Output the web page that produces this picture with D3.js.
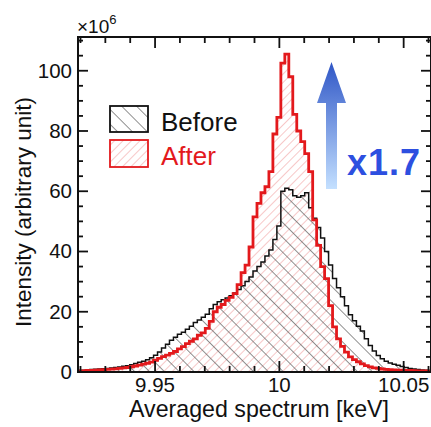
<!DOCTYPE html>
<html>
<head>
<meta charset="utf-8">
<script src="https://cdn.jsdelivr.net/npm/d3@7"></script>
<style>
  html, body { margin: 0; padding: 0; background: #fff; }
  svg { display: block; }
  text { font-family: "Liberation Sans", Arial, Helvetica, sans-serif; }
</style>
</head>
<body>
<svg id="chart" width="431" height="427"></svg>
<script>
// ---- Data ----
const binStart = 9.919;      // keV, left edge of first bin
const binWidth = 0.0016;     // keV
const before = [
  0.5, 0.6, 0.7, 0.8, 0.9, 1.0, 1.1, 1.2, 1.35, 1.5,
  1.7, 1.9, 2.1, 2.4, 2.8, 3.2, 3.6, 4.1, 4.7, 5.6,
  6.6, 8.0, 9.2, 10.5, 11.5, 12.5, 13.2, 14.2, 15.2, 16.4,
  17.3, 18.2, 19.2, 21.0, 22.4, 23.3, 24.0, 24.6, 25.3, 26.2,
  27.4, 28.6, 30.0, 31.5, 33.5, 35.0, 36.5, 38.5, 40.5, 44.0,
  48.5, 60.0, 61.0, 60.5, 58.5, 58.0, 58.5, 59.5, 54.5, 51.0,
  48.0, 44.5, 40.0, 35.5, 31.0, 28.0, 25.0, 22.0, 19.0, 17.0,
  15.2, 13.6, 11.0, 8.8, 7.0, 5.5, 4.4, 3.6, 3.0, 2.6,
  2.2, 1.8, 1.5, 1.2, 1.0, 0.8, 0.7, 0.6, 0.5
];
const after = [
  0.4, 0.4, 0.5, 0.5, 0.6, 0.7, 0.8, 0.85, 0.95, 1.05,
  1.2, 1.35, 1.5, 1.75, 2.0, 2.3, 2.6, 2.9, 3.3, 3.9,
  4.5, 5.1, 5.6, 6.2, 6.8, 7.7, 8.4, 9.4, 10.2, 11.0,
  12.2, 13.0, 14.5, 16.8, 20.0, 21.5, 22.4, 23.8, 24.8, 26.0,
  29.0, 33.0, 35.5, 41.5, 51.5, 56.0, 59.5, 61.5, 66.5, 79.0,
  84.5, 102.5, 105.5, 98.0, 85.5, 80.0, 76.5, 72.5, 66.5, 50.5,
  42.0, 35.0, 31.0, 22.0, 15.0, 11.0, 8.5, 6.6, 5.0, 4.1,
  3.4, 2.7, 2.1, 1.7, 1.4, 1.2, 1.0, 0.9, 0.8, 0.7,
  0.65, 0.6, 0.55, 0.5, 0.45, 0.4, 0.4, 0.35, 0.3
];
const xMajorTicks = [9.95, 10.00, 10.05];
const xTickLabels = ["9.95", "10", "10.05"];
const xMinorTicks = [9.92, 9.93, 9.94, 9.96, 9.97, 9.98, 9.99, 10.01, 10.02, 10.03, 10.04, 10.06];
const yMajorTicks = [0, 20, 40, 60, 80, 100];
const yMinorTicks = [5, 10, 15, 25, 30, 35, 45, 50, 55, 65, 70, 75, 85, 90, 95, 105, 110];
const legendLabels = ["Before", "After"];
const xTitle = "Averaged spectrum [keV]";
const yTitle = "Intensity (arbitrary unit)";
const ratioLabel = "x1.7";

// ---- Layout ----
const L = 78, R = 431, T = 37, B = 372;
const svg = d3.select("#chart");
const x = d3.scaleLinear().domain([9.919, 10.061]).range([L, R]);
const y = d3.scaleLinear().domain([0, 111.2]).range([B, T]);

const defs = svg.append("defs");
defs.append("clipPath").attr("id", "plotclip")
  .append("rect").attr("x", L).attr("y", T).attr("width", R - L).attr("height", B - T);

function hatch(id, spacing, angle, color, width) {
  const p = defs.append("pattern").attr("id", id)
    .attr("patternUnits", "userSpaceOnUse")
    .attr("width", spacing).attr("height", spacing)
    .attr("patternTransform", `rotate(${angle})`);
  p.append("line").attr("x1", 0).attr("y1", -1).attr("x2", 0).attr("y2", spacing + 1)
    .attr("stroke", color).attr("stroke-width", width);
}
hatch("hatchBefore", 10.5, -45, "#555", 1.3);
hatch("hatchAfter", 6, 45, "#f09a9a", 1.1);

// ---- Histogram paths ----
function stepPoints(vals) {
  const pts = [];
  vals.forEach((v, i) => {
    const x0 = binStart + i * binWidth, x1 = x0 + binWidth;
    pts.push([x0, v], [x1, v]);
  });
  return pts;
}
function outline(vals) {
  const pts = stepPoints(vals);
  const first = pts[0], last = pts[pts.length - 1];
  return [[first[0], 0], ...pts, [last[0], 0]];
}
const line = d3.line().x(d => x(d[0])).y(d => y(d[1]));

const plot = svg.append("g").attr("clip-path", "url(#plotclip)");
plot.append("path").attr("d", line(outline(after)) + "Z").attr("fill", "url(#hatchAfter)");
plot.append("path").attr("d", line(outline(before)) + "Z").attr("fill", "url(#hatchBefore)");
plot.append("path").attr("d", line(outline(before))).attr("fill", "none")
  .attr("stroke", "#111").attr("stroke-width", 1.5);
plot.append("path").attr("d", line(outline(after))).attr("fill", "none")
  .attr("stroke", "#e3191c").attr("stroke-width", 2.8).attr("stroke-linejoin", "miter");

// ---- Axes frame and ticks ----
const axes = svg.append("g").attr("stroke", "#111");
axes.append("rect").attr("x", L).attr("y", T).attr("width", R - L).attr("height", B - T)
  .attr("fill", "none").attr("stroke-width", 2);
function xt(vals, len) {
  vals.forEach(v => {
    axes.append("line").attr("x1", x(v)).attr("x2", x(v)).attr("y1", B).attr("y2", B - len).attr("stroke-width", 1.8);
    axes.append("line").attr("x1", x(v)).attr("x2", x(v)).attr("y1", T).attr("y2", T + len).attr("stroke-width", 1.8);
  });
}
function yt(vals, len) {
  vals.forEach(v => {
    axes.append("line").attr("y1", y(v)).attr("y2", y(v)).attr("x1", L).attr("x2", L + len).attr("stroke-width", 1.8);
    axes.append("line").attr("y1", y(v)).attr("y2", y(v)).attr("x1", R).attr("x2", R - len).attr("stroke-width", 1.8);
  });
}
xt(xMajorTicks, 11); xt(xMinorTicks, 6);
yt(yMajorTicks, 10); yt(yMinorTicks, 5);

// tick labels
xMajorTicks.forEach((v, i) => {
  svg.append("text").attr("x", x(v)).attr("y", 392).attr("text-anchor", "middle")
    .attr("font-size", 20.5).attr("fill", "#111").text(xTickLabels[i]);
});
yMajorTicks.forEach(v => {
  svg.append("text").attr("x", 72).attr("y", y(v) + 7).attr("text-anchor", "end")
    .attr("font-size", 20.5).attr("fill", "#111").text(v);
});

// exponent
const ex = svg.append("text").attr("x", 77).attr("y", 33).attr("font-size", 19).attr("fill", "#111");
ex.append("tspan").text("×10");
ex.append("tspan").attr("font-size", 13).attr("dy", -9).text("6");

// axis titles
svg.append("text").attr("x", 259).attr("y", 417).attr("text-anchor", "middle")
  .attr("font-size", 23.2).attr("fill", "#111").text(xTitle);
svg.append("text").attr("transform", "translate(31,212) rotate(-90)").attr("text-anchor", "middle")
  .attr("font-size", 22.5).attr("fill", "#111").text(yTitle);

// ---- Legend ----
const leg = svg.append("g");
leg.append("rect").attr("x", 110).attr("y", 106).attr("width", 38).attr("height", 26)
  .attr("fill", "url(#hatchBefore)").attr("stroke", "#111").attr("stroke-width", 1.8);
leg.append("rect").attr("x", 110).attr("y", 140).attr("width", 38).attr("height", 27)
  .attr("fill", "url(#hatchAfter)").attr("stroke", "#e3191c").attr("stroke-width", 1.8);
leg.append("text").attr("x", 161).attr("y", 131).attr("font-size", 26).attr("fill", "#111").text(legendLabels[0]);
leg.append("text").attr("x", 161).attr("y", 165).attr("font-size", 26).attr("fill", "#e3191c").text(legendLabels[1]);

// ---- Arrow and ratio ----
const grad = defs.append("linearGradient").attr("id", "arrowGrad")
  .attr("x1", 0).attr("y1", 1).attr("x2", 0).attr("y2", 0);
grad.append("stop").attr("offset", "0%").attr("stop-color", "#c4e0ff");
grad.append("stop").attr("offset", "100%").attr("stop-color", "#2f56c6");
const ax = 331.5;
svg.append("path")
  .attr("d", `M${ax},62 L${ax + 14.5},103 L${ax + 5.5},103 L${ax + 5.5},189 L${ax - 5.5},189 L${ax - 5.5},103 L${ax - 14.5},103 Z`)
  .attr("fill", "url(#arrowGrad)");
svg.append("text").attr("x", 347).attr("y", 175).attr("font-size", 36).attr("font-weight", "bold")
  .attr("fill", "#2d4fe0").attr("letter-spacing", 1).text(ratioLabel);
</script>
</body>
</html>
